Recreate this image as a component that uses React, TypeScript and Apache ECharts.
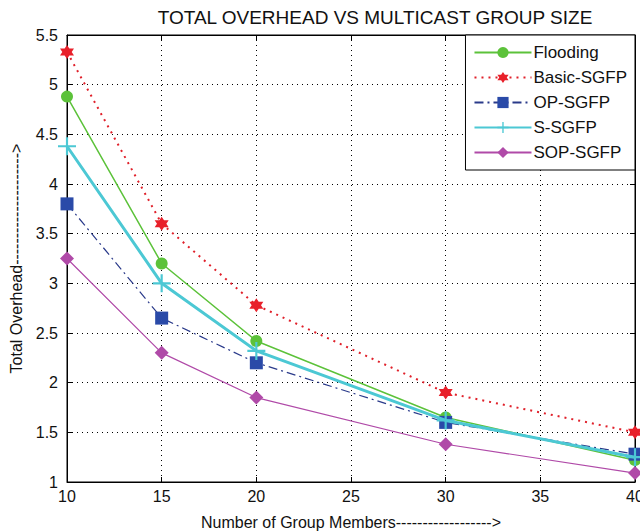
import React, { useEffect, useRef } from "react";
import * as echarts from "echarts";

const groupSizes = [10, 15, 20, 30, 40];
const flooding = [4.88, 3.2, 2.42, 1.65, 1.22];
const basicSGFP = [5.33, 3.6, 2.78, 1.9, 1.5];
const opSGFP = [3.8, 2.65, 2.2, 1.6, 1.28];
const sSGFP = [4.38, 3.0, 2.32, 1.62, 1.25];
const sopSGFP = [3.25, 2.3, 1.85, 1.38, 1.09];

const seriesNames = ["Flooding", "Basic-SGFP", "OP-SGFP", "S-SGFP", "SOP-SGFP"];

const STAR =
  "path://M0,-10 L2.9,-5 L8.66,-5 L5.8,0 L8.66,5 L2.9,5 L0,10 L-2.9,5 L-8.66,5 L-5.8,0 L-8.66,-5 L-2.9,-5 Z";
const PLUS =
  "path://M-1.2,-10 L1.2,-10 L1.2,-1.2 L10,-1.2 L10,1.2 L1.2,1.2 L1.2,10 L-1.2,10 L-1.2,1.2 L-10,1.2 L-10,-1.2 L-1.2,-1.2 Z";

const FONT = "'Liberation Sans', Arial, sans-serif";

export default function App() {
  const ref = useRef<HTMLDivElement>(null);
  useEffect(() => {
    if (!ref.current) return;
    const chart = echarts.init(ref.current, null, { renderer: "svg" });
    const pair = (vals: number[]) => groupSizes.map((x, i) => [x, vals[i]]);
    const gridLine = { show: true, lineStyle: { color: "#000", type: [1, 4] as any, width: 1 } };
    chart.setOption({
      animation: false,
      backgroundColor: "#fff",
      textStyle: { fontFamily: FONT },
      title: {
        text: "TOTAL OVERHEAD VS MULTICAST GROUP SIZE",
        left: 370,
        textAlign: "center",
        top: 3,
        textStyle: { fontSize: 19, fontWeight: "normal", color: "#111", fontFamily: FONT },
      },
      grid: {
        left: 67,
        right: 5,
        top: 35,
        bottom: 49,
        outerBoundsMode: "none",
        containLabel: false,
        show: true,
        borderColor: "#000",
        borderWidth: 1,
        backgroundColor: "#fff",
      },
      legend: {
        orient: "vertical",
        right: 5,
        top: 35,
        data: seriesNames,
        backgroundColor: "#fff",
        borderColor: "#000",
        borderWidth: 1,
        padding: [9, 8, 9, 8],
        itemGap: 8,
        itemWidth: 57,
        itemHeight: 14,
        textStyle: { fontSize: 17, color: "#111", fontFamily: FONT, padding: [0, 0, 0, -3] },
      },
      xAxis: [
        {
          type: "value",
          min: 10,
          max: 40,
          interval: 5,
          name: "Number of Group Members------------------>",
          nameLocation: "middle",
          nameGap: 32,
          nameTextStyle: { fontSize: 16, color: "#111", fontFamily: FONT },
          axisLine: { show: true, lineStyle: { color: "#000" } },
          axisTick: { show: true, inside: true, length: 5, lineStyle: { color: "#000" } },
          axisLabel: { fontSize: 16, color: "#111", margin: 6, fontFamily: FONT },
          splitLine: gridLine,
        },
        {
          type: "value",
          min: 10,
          max: 40,
          interval: 5,
          position: "top",
          axisLine: { show: true, lineStyle: { color: "#000" } },
          axisTick: { show: true, inside: true, length: 5, lineStyle: { color: "#000" } },
          axisLabel: { show: false },
          splitLine: { show: false },
        },
      ],
      yAxis: [
        {
          type: "value",
          min: 1,
          max: 5.5,
          interval: 0.5,
          name: "Total Overhead--------------------->",
          nameLocation: "middle",
          nameGap: 41,
          nameRotate: 90,
          nameTextStyle: { fontSize: 16, color: "#111", fontFamily: FONT },
          axisLine: { show: true, lineStyle: { color: "#000" } },
          axisTick: { show: true, inside: true, length: 5, lineStyle: { color: "#000" } },
          axisLabel: { fontSize: 16, color: "#111", margin: 9, fontFamily: FONT },
          splitLine: gridLine,
        },
        {
          type: "value",
          min: 1,
          max: 5.5,
          interval: 0.5,
          position: "right",
          axisLine: { show: true, lineStyle: { color: "#000" } },
          axisTick: { show: true, inside: true, length: 5, lineStyle: { color: "#000" } },
          axisLabel: { show: false },
          splitLine: { show: false },
        },
      ],
      series: [
        {
          name: "Flooding",
          type: "line",
          data: pair(flooding),
          symbol: "circle",
          symbolSize: 12,
          itemStyle: { color: "#5cc23a" },
          lineStyle: { color: "#5cc23a", width: 1.5 },
          z: 3,
        },
        {
          name: "Basic-SGFP",
          type: "line",
          data: pair(basicSGFP),
          symbol: STAR,
          symbolSize: 14,
          itemStyle: { color: "#e8202a" },
          lineStyle: { color: "#e0202a", width: 2, type: [2, 5] as any },
          z: 4,
        },
        {
          name: "OP-SGFP",
          type: "line",
          data: pair(opSGFP),
          symbol: "rect",
          symbolSize: 13,
          itemStyle: { color: "#2a4aa8" },
          lineStyle: { color: "#2a3a8a", width: 1.2, type: [9, 4, 2, 4] as any },
          z: 4,
        },
        {
          name: "S-SGFP",
          type: "line",
          data: pair(sSGFP),
          symbol: PLUS,
          symbolSize: 18,
          itemStyle: { color: "#4cc8d4" },
          lineStyle: { color: "#4cc8d4", width: 3 },
          z: 5,
        },
        {
          name: "SOP-SGFP",
          type: "line",
          data: pair(sopSGFP),
          symbol: "diamond",
          symbolSize: 14,
          itemStyle: { color: "#b04aa8" },
          lineStyle: { color: "#b04aa8", width: 1.2 },
          z: 3,
        },
      ],
    });
    return () => chart.dispose();
  }, []);
  return <div ref={ref} style={{ width: 640, height: 531, position: "absolute", left: 0, top: 0 }} />;
}
